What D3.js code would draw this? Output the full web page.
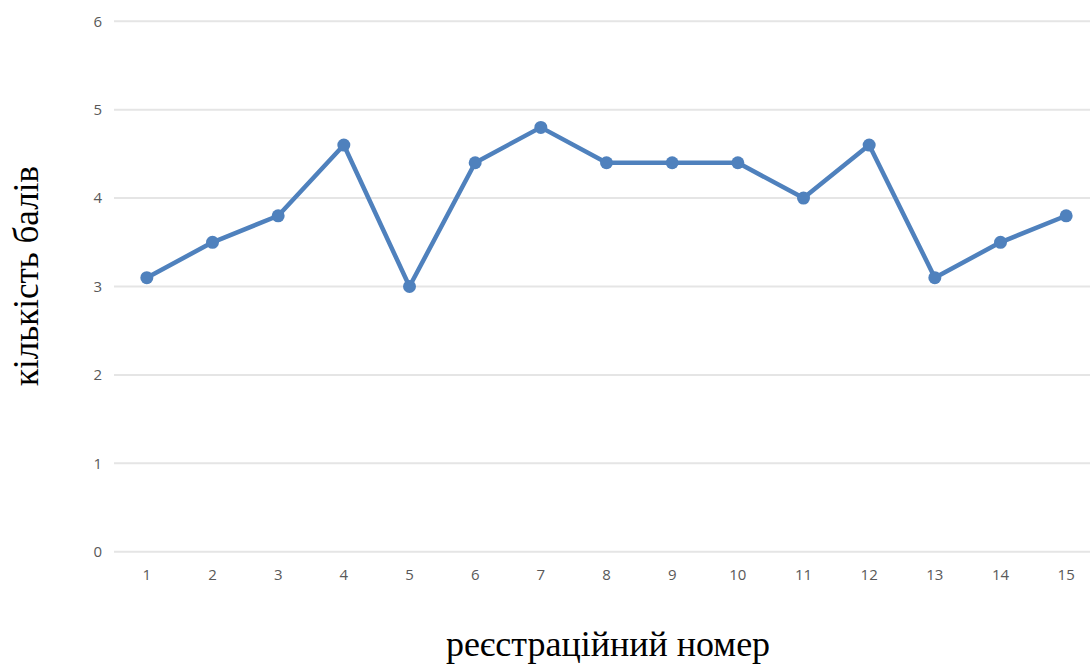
<!DOCTYPE html>
<html><head><meta charset="utf-8">
<script src="https://cdn.jsdelivr.net/npm/d3@7"></script>
<style>body{margin:0;background:#fff}</style>
</head><body>
<svg id="c" width="1090" height="664"></svg>
<script>
const categories = ["1","2","3","4","5","6","7","8","9","10","11","12","13","14","15"];
const values = [3.1, 3.5, 3.8, 4.6, 3.0, 4.4, 4.8, 4.4, 4.4, 4.4, 4.0, 4.6, 3.1, 3.5, 3.8];
const yTicks = [0, 1, 2, 3, 4, 5, 6];
const xTitle = "реєстраційний номер";
const yTitle = "кількість балів";

const svg = d3.select("#c");
const x = d3.scaleBand().domain(categories).range([114, 1099]);
const y = d3.scaleLinear().domain([0, 6]).range([551.7, 21.3]);

const grid = svg.append("g");
grid.selectAll("line").data(yTicks).join("line")
  .attr("x1", 114).attr("x2", 1099)
  .attr("y1", d => y(d)).attr("y2", d => y(d))
  .attr("stroke", "#e5e5e5").attr("stroke-width", 2);

const yAxis = svg.append("g").attr("transform", "translate(114,0)")
  .call(d3.axisLeft(y).tickValues(yTicks).tickSize(0).tickPadding(12).tickFormat(d3.format("d")));
yAxis.select(".domain").remove();
yAxis.selectAll("text").attr("font-family", "Open Sans, sans-serif").attr("font-size", 15).attr("fill", "#595959");

const xAxis = svg.append("g").attr("transform", "translate(0,551.7)")
  .call(d3.axisBottom(x).tickSize(0).tickPadding(18));
xAxis.select(".domain").remove();
xAxis.selectAll("text").attr("font-family", "Open Sans, sans-serif").attr("font-size", 15).attr("fill", "#595959");

const cx = d => x(d) + x.bandwidth() / 2;
const line = d3.line().x((d, i) => cx(categories[i])).y(d => y(d));
svg.append("path").datum(values).attr("d", line)
  .attr("fill", "none").attr("stroke", "#4f81bd").attr("stroke-width", 4.5).attr("stroke-linejoin", "round");
svg.append("g").selectAll("circle").data(values).join("circle")
  .attr("cx", (d, i) => cx(categories[i])).attr("cy", d => y(d)).attr("r", 6.5)
  .attr("fill", "#4f81bd");

svg.append("text").attr("x", 608).attr("y", 656).attr("text-anchor", "middle")
  .attr("font-family", "Liberation Serif, Times New Roman, serif").attr("font-size", 36).attr("fill", "#000")
  .text(xTitle);
svg.append("text").attr("transform", "translate(38,276) rotate(-90)").attr("text-anchor", "middle")
  .attr("font-family", "Liberation Serif, Times New Roman, serif").attr("font-size", 35).attr("fill", "#000")
  .text(yTitle);
</script>
</body></html>
